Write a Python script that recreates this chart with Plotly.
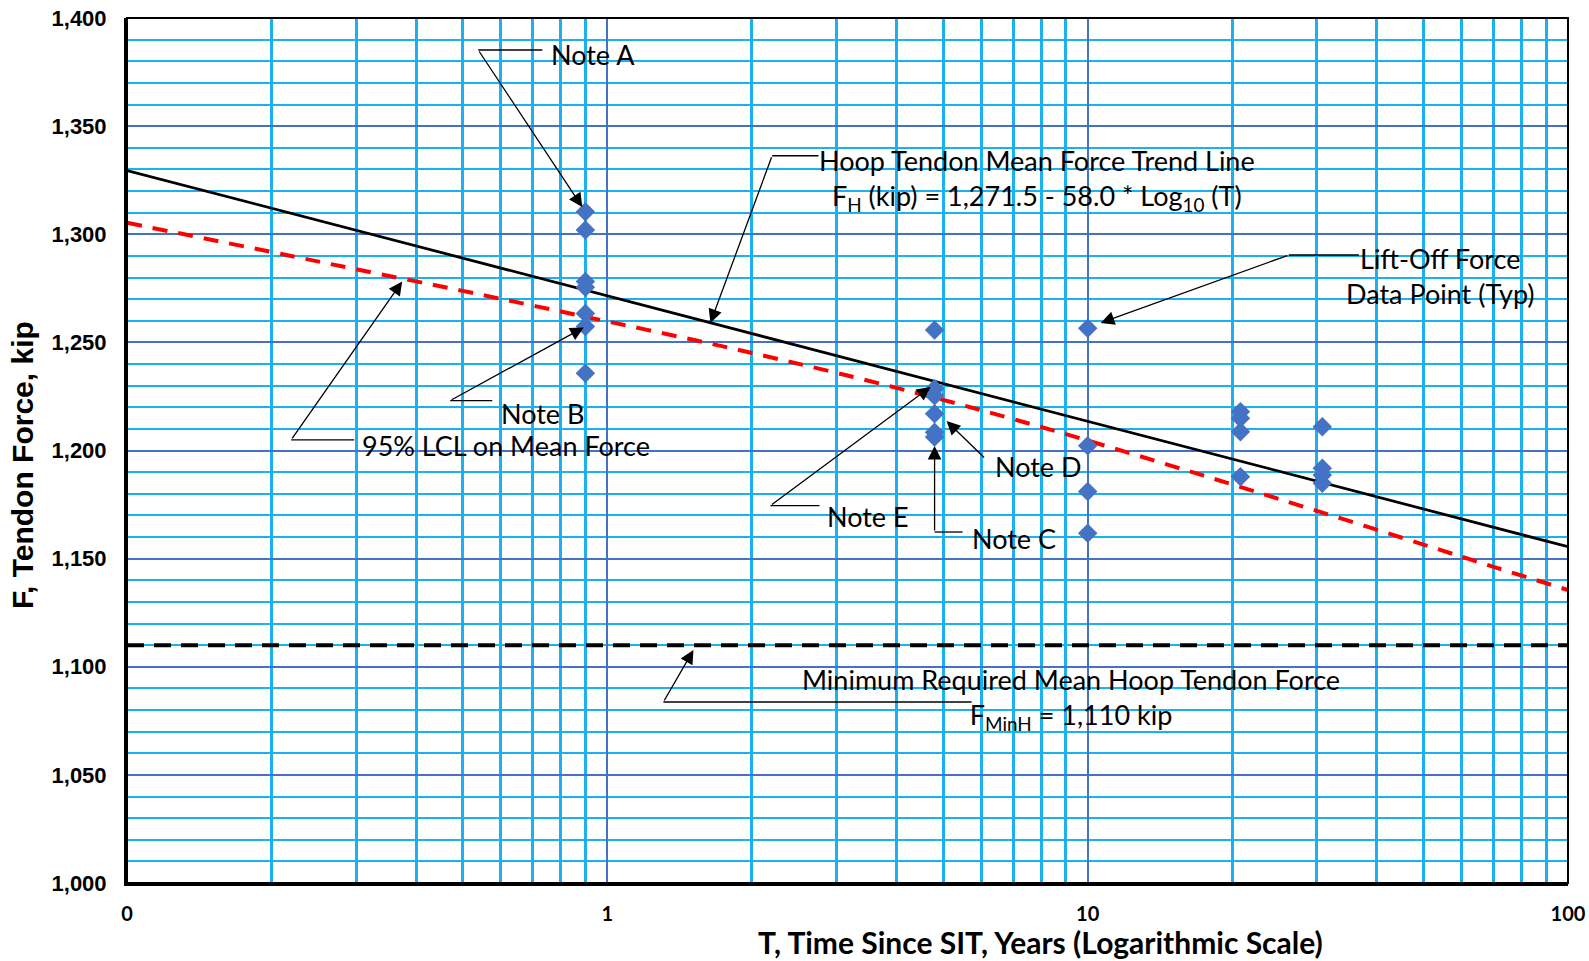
import plotly.graph_objects as go

# ---------------- data ----------------
lift_off_T = [0.9, 0.9, 0.9, 0.9, 0.9, 0.9, 0.9,
              4.8, 4.8, 4.8, 4.8, 4.8, 4.8,
              10, 10, 10, 10,
              20.8, 20.8, 20.8, 20.8,
              30.8, 30.8, 30.8, 30.8]
lift_off_F = [1310.4, 1302.0, 1278.1, 1275.5, 1263.4, 1257.3, 1235.7,
              1255.7, 1228.5, 1225.3, 1217.0, 1208.4, 1206.3,
              1256.5, 1202.2, 1181.0, 1161.7,
              1217.9, 1214.9, 1208.7, 1187.9,
              1211.0, 1191.8, 1188.7, 1184.8]

trend_T = [0.1, 100]
trend_F = [1329.5, 1155.5]

lcl_T = [0.1, 0.2, 0.3, 0.5, 0.7, 1, 1.5, 2, 3, 5, 7, 10, 15, 20, 30, 50, 70, 100]
lcl_F = [1305.3, 1291.8, 1283.8, 1273.8, 1267.0, 1259.7, 1251.3, 1245.1, 1235.9,
         1223.4, 1214.5, 1204.6, 1192.8, 1184.3, 1172.1, 1156.5, 1146.2, 1135.5]

min_T = [0.1, 100]
min_F = [1110, 1110]

x_tickvals = [0.1, 1, 10, 100]
x_ticktext = ["0", "1", "10", "100"]
x_minor_vals = [0.2, 0.3, 0.4, 0.5, 0.6, 0.7, 0.8, 0.9,
                2, 3, 4, 5, 6, 7, 8, 9,
                20, 30, 40, 50, 60, 70, 80, 90]
y_tickvals = [1000, 1050, 1100, 1150, 1200, 1250, 1300, 1350, 1400]

DARK = "#4472C4"
LIGHT = "#1AB2EE"
TXT_FONT = "Lato"

fig = go.Figure()

fig.add_trace(go.Scatter(x=min_T, y=min_F, mode="lines",
                         line=dict(color="black", width=4, dash="17px,10px"),
                         hoverinfo="skip", showlegend=False))
fig.add_trace(go.Scatter(x=lcl_T, y=lcl_F, mode="lines",
                         line=dict(color="#FF0000", width=4, dash="15px,11px", shape="spline"),
                         hoverinfo="skip", showlegend=False))
fig.add_trace(go.Scatter(x=trend_T, y=trend_F, mode="lines",
                         line=dict(color="black", width=2.75),
                         hoverinfo="skip", showlegend=False))
fig.add_trace(go.Scatter(x=lift_off_T, y=lift_off_F, mode="markers",
                         marker=dict(symbol="diamond", size=15, color=DARK, line=dict(width=0)),
                         showlegend=False))

# ---------------- annotations ----------------
ann = []
shapes = [dict(type="rect", xref="paper", yref="paper", x0=0, y0=0, x1=1, y1=1,
               line=dict(color="black", width=2), layer="above")]


def arrow(tip, tail):
    ann.append(dict(x=tip[0], y=tip[1], ax=tail[0], ay=tail[1],
                    xref="x", yref="y", axref="x", ayref="y",
                    text="", showarrow=True,
                    arrowhead=2, arrowsize=2.1, arrowwidth=1.3,
                    arrowcolor="black", standoff=0, startstandoff=0))


def leader(x0, x1, y):
    # shapes on a log axis take data values (years)
    shapes.append(dict(type="line", xref="x", yref="y", x0=10 ** x0, x1=10 ** x1, y0=y, y1=y,
                       line=dict(color="black", width=1.3), layer="above"))


def label(x, y, text, xanchor="left"):
    ann.append(dict(x=x, y=y, xref="x", yref="y", text=text, showarrow=False,
                    xanchor=xanchor, yanchor="middle", align="center",
                    font=dict(family=TXT_FONT, size=27, color="black")))


# annotation positions: x in log10(T), y in kip
# Note A
arrow((-0.0521, 1312.6), (-0.2688, 1385.2))
leader(-0.2688, -0.1354, 1385.2)
label(-0.121, 1382.9, "Note A")
# Hoop trend line
arrow((0.2146, 1259.0), (0.3431, 1336.3))
leader(0.3431, 0.4396, 1336.3)
label(0.8950, 1325.1, "Hoop Tendon Mean Force Trend Line<br>F<sub>H</sub> (kip) = 1,271.5 - 58.0 * Log<sub>10</sub> (T)",
      xanchor="center")
# Lift-off
arrow((1.0271, 1259.0), (1.4188, 1290.4))
leader(1.4188, 1.5646, 1290.4)
label(1.7354, 1280.7, "Lift-Off Force<br>Data Point (Typ)", xanchor="center")
# Note B
arrow((-0.049, 1256.9), (-0.3271, 1223.1))
leader(-0.3271, -0.2396, 1223.1)
label(-0.225, 1217.3, "Note B")
# 95% LCL
arrow((-0.4271, 1278.2), (-0.6583, 1204.9))
leader(-0.6583, -0.5271, 1204.9)
label(-0.5145, 1202.1, "95% LCL on Mean Force")
# Note E
arrow((0.6729, 1229.4), (0.3396, 1174.5))
leader(0.3396, 0.4417, 1174.5)
label(0.4540, 1169.7, "Note E")
# Note D
arrow((0.7063, 1213.6), (0.7875, 1196.1))
label(0.8020, 1192.4, "Note D")
# Note C
arrow((0.6813, 1202.1), (0.6813, 1162.3))
leader(0.6813, 0.7396, 1162.3)
label(0.7540, 1159.1, "Note C")
# Minimum required
arrow((0.1792, 1107.7), (0.1167, 1083.7))
leader(0.1167, 0.7583, 1083.7)
label(0.9650, 1085.1, "Minimum Required Mean Hoop Tendon Force<br>F<sub>MinH</sub> = 1,110 kip", xanchor="center")

# axis titles
ann.append(dict(x=0.6336, y=-0.0685, xref="paper", yref="paper",
                text="<b>T, Time Since SIT, Years (Logarithmic Scale)</b>", showarrow=False,
                xanchor="center", yanchor="middle",
                font=dict(family=TXT_FONT, size=30, color="black")))
ann.append(dict(x=-0.0729, y=0.4832, xref="paper", yref="paper",
                text="<b>F, Tendon Force, kip</b>", showarrow=False, textangle=-90,
                xanchor="center", yanchor="middle",
                font=dict(family="Liberation Sans", size=30, color="black")))

fig.update_layout(
    width=1589, height=961,
    margin=dict(l=127, r=21, t=18, b=78, autoexpand=False),
    paper_bgcolor="white", plot_bgcolor="white",
    annotations=ann,
    shapes=shapes,
    xaxis=dict(type="log", range=[-1, 2], tickmode="array",
               tickvals=x_tickvals, ticktext=x_ticktext, automargin=False,
               showgrid=True, gridcolor=DARK, gridwidth=2,
               showline=True, linecolor="black", linewidth=3,
               ticks="", ticklabelstandoff=11,
               tickfont=dict(family=TXT_FONT, size=20, color="black", weight="bold"),
               minor=dict(tickmode="array", tickvals=x_minor_vals, showgrid=True,
                          gridcolor=LIGHT, gridwidth=2.5, ticks=""),
               zeroline=False),
    yaxis=dict(range=[1000, 1400], tickmode="array", tickvals=y_tickvals, automargin=False,
               tickformat=",", showgrid=True, gridcolor=DARK, gridwidth=2,
               showline=True, linecolor="black", linewidth=3,
               ticks="", ticklabelstandoff=13,
               tickfont=dict(family="Liberation Sans", size=22, color="black", weight="bold"),
               minor=dict(dtick=10, showgrid=True, gridcolor=LIGHT, gridwidth=1.5, ticks=""),
               zeroline=False),
)

fig.write_html("out.html", config={"displayModeBar": False},
               post_script="document.body.style.margin='0';")
